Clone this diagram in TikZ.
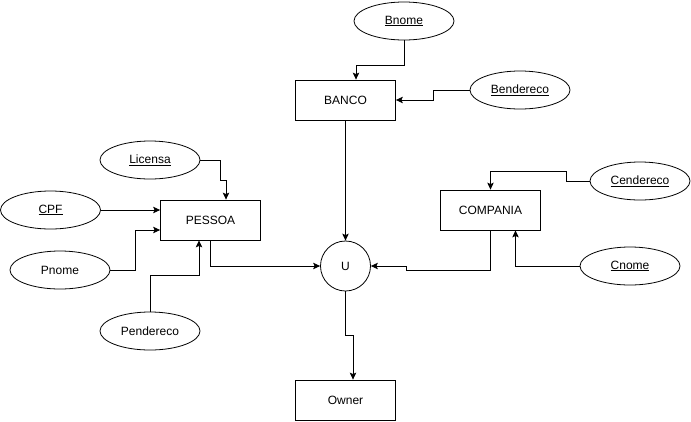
\documentclass[tikz,border=0pt]{standalone}
\usepackage{fontspec}
\setmainfont{Liberation Sans}
\usetikzlibrary{arrows.meta,shapes.geometric}
\begin{document}
\begin{tikzpicture}[x=1pt,y=-1pt,
  every node/.style={font=\fontsize{12}{14}\selectfont, inner sep=0pt},
  ent/.style={draw, line width=0.8pt, minimum width=100pt, minimum height=40pt},
  attr/.style={draw, ellipse, line width=0.8pt, minimum width=100pt, minimum height=38pt},
  rel/.style={draw, circle, line width=0.8pt, minimum size=50pt},
  arr/.style={line width=0.8pt, -{Stealth[length=7pt,width=6.5pt,inset=1.5pt]}}]
\useasboundingbox (0,0) rectangle (691,421);
% entities
\node[ent] (banco) at (345.5,100) {BANCO};
\node[ent] (pessoa) at (210.5,220) {PESSOA};
\node[ent] (comp) at (490.5,210) {COMPANIA};
\node[ent] (owner) at (345.5,400) {Owner};
\node[rel] (u) at (345.5,266) {U};
% attributes
\node[attr] (bnome) at (404,21) {\underline{Bnome}};
\node[attr] (bend) at (520,90) {\underline{Bendereco}};
\node[attr] (lic) at (150,160) {\underline{Licensa}};
\node[attr] (cpf) at (50.5,210) {\underline{CPF}};
\node[attr] (pnome) at (60,270) {Pnome};
\node[attr] (pend) at (150,331) {Pendereco};
\node[attr] (cend) at (640,181) {\underline{Cendereco}};
\node[attr] (cnome) at (630,266) {\underline{Cnome}};
% connectors
\draw[arr] (bnome.south) -- (404,65) -- (356,65) -- ([xshift=10.5pt]banco.north);
\draw[arr] (bend.west) -- (433,90) -- (433,100) -- (banco.east);
\draw[arr] (lic.east) -- (220,160) -- (220,180) -- (226,180) -- ([xshift=15.5pt]pessoa.north);
\draw[arr] (cpf.east) -- (cpf.east -| pessoa.west);
\draw[arr] (pnome.east) -- (135,270) -- (135,230) -- (pessoa.west |- 0,230);
\draw[arr] (pend.north) -- (150,275) -- (199,275) -- ([xshift=-11.5pt]pessoa.south);
\draw[arr] (pessoa.south) |- (u.west);
\draw[arr] (banco.south) -- (u.north);
\draw[arr] (comp.south) -- (490.5,270) -- (406,270) -- (406,266) -- (u.east);
\draw[arr] (cend.west) -- (566,181) -- (566,171) -- (490.5,171) -- (comp.north);
\draw[arr] (cnome.west) -| ([xshift=25pt]comp.south);
\draw[arr] (u.south) -- (345.5,335) -- (353,335) -- ([xshift=7.5pt]owner.north);
\end{tikzpicture}
\end{document}
